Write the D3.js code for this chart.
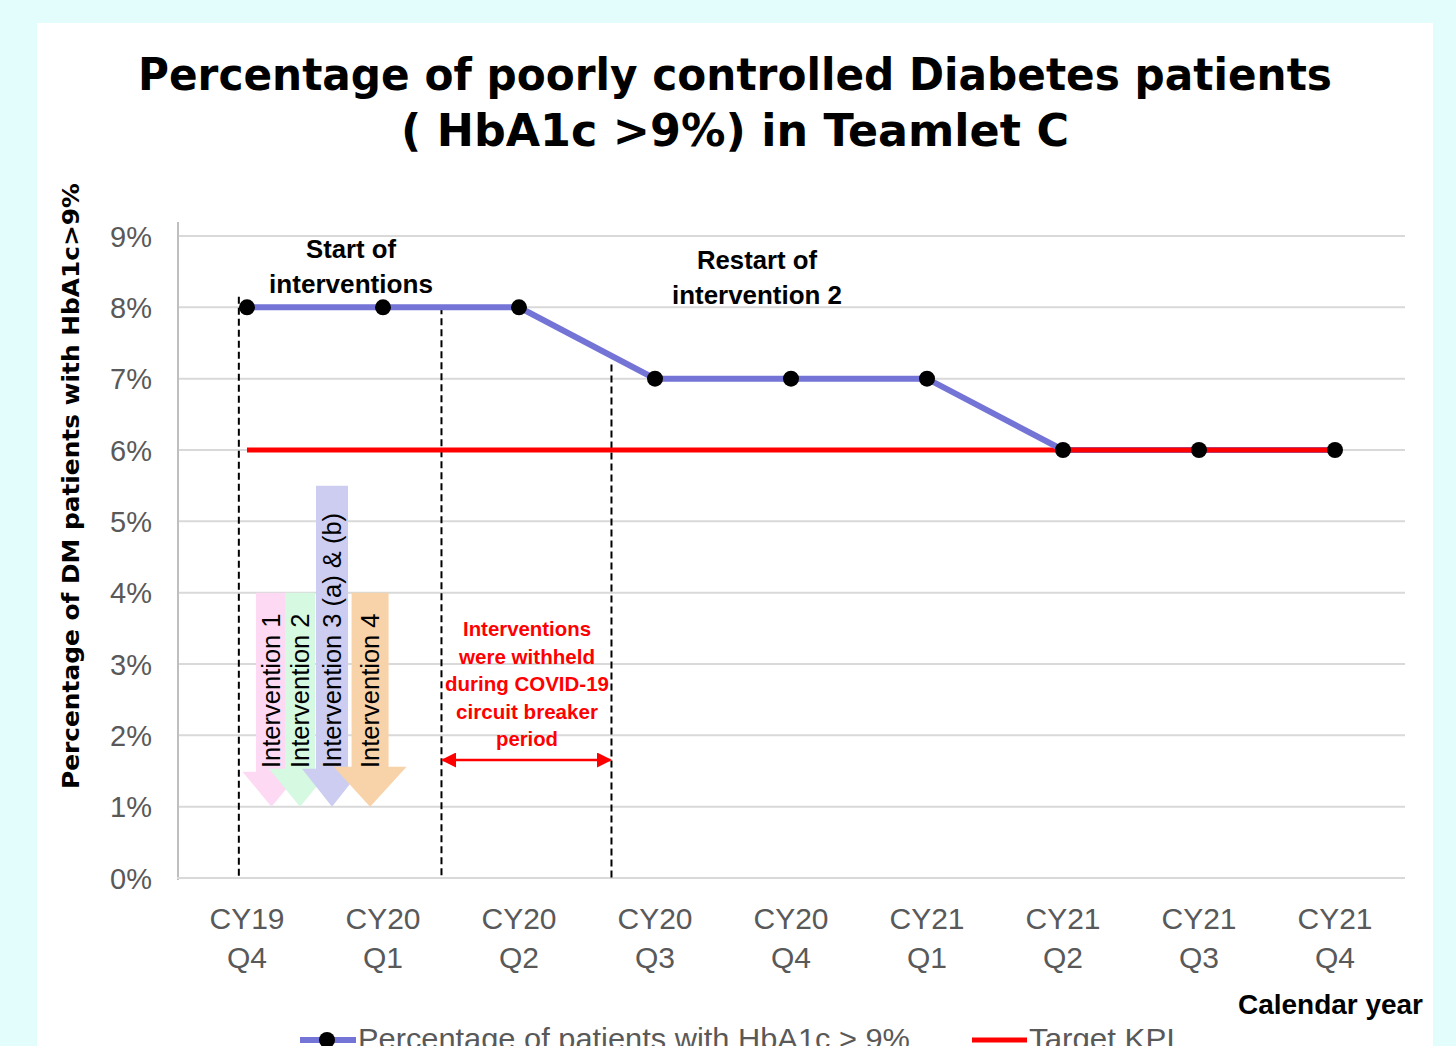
<!DOCTYPE html>
<html>
<head>
<meta charset="utf-8">
<script src="https://cdn.jsdelivr.net/npm/d3@7"></script>
<style>
  body { margin: 0; background: #e2fdfb; }
  svg { display: block; }
  .tick-label { font-family: "Liberation Sans", Arial, sans-serif; fill: #595959; }
  .note { font-family: "Liberation Sans", Arial, sans-serif; font-weight: bold; }
</style>
</head>
<body>
<svg id="chart"></svg>
<script>
// chart data
var quarters = ["CY19 Q4", "CY20 Q1", "CY20 Q2", "CY20 Q3", "CY20 Q4", "CY21 Q1", "CY21 Q2", "CY21 Q3", "CY21 Q4"];
var pctValues = [8, 8, 8, 7, 7, 7, 6, 6, 6];
var targetKPI = 6;
var yTicks = [0, 1, 2, 3, 4, 5, 6, 7, 8, 9];

var interventions = ["Intervention 1", "Intervention 2", "Intervention 3 (a) & (b)", "Intervention 4"];
var interventionTop = [4, 4, 5.5, 4];
var interventionTip = [1, 1, 1, 1];
var interventionColors = ["#fdd9f3", "#d5f9e1", "#cdcdf1", "#f8d2a8"];

var WIDTH = 1456;
var HEIGHT = 1046;

var svg = d3.select("#chart").attr("width", WIDTH).attr("height", HEIGHT);

// white panel
svg.append("rect")
    .attr("x", 37).attr("y", 23)
    .attr("width", 1396).attr("height", HEIGHT - 23)
    .attr("fill", "#ffffff");

var x = d3.scaleBand().domain(quarters).range([179, 1403]);
var y = d3.scaleLinear().domain([0, 9]).range([878, 236]);
function cx(q) { return x(q) + x.bandwidth() / 2; }
// fractional category position (0 = first quarter)
var xi = d3.scaleLinear().domain([0, 8]).range([cx(quarters[0]), cx(quarters[8])]);

// title
var title = svg.append("text")
    .attr("text-anchor", "middle")
    .style("font-family", "'DejaVu Sans', Verdana, sans-serif")
    .style("font-weight", "bold")
    .style("font-size", "45px");
title.append("tspan").attr("x", 735).attr("y", 90)
    .attr("textLength", 1194).attr("lengthAdjust", "spacingAndGlyphs")
    .text("Percentage of poorly controlled Diabetes patients");
title.append("tspan").attr("x", 735).attr("y", 146)
    .attr("textLength", 668).attr("lengthAdjust", "spacingAndGlyphs")
    .text("( HbA1c >9%) in Teamlet C");

// gridlines
svg.append("g")
    .selectAll("line")
    .data(yTicks.slice(1))
    .enter()
    .append("line")
    .attr("x1", 179).attr("x2", 1405)
    .attr("y1", function(d) { return y(d); })
    .attr("y2", function(d) { return y(d); })
    .attr("stroke", "#d9d9d9").attr("stroke-width", 2);

// axes
var yAxis = d3.axisLeft(y).tickValues(yTicks).tickSize(0).tickPadding(26)
    .tickFormat(function(d) { return d + "%"; });
var gy = svg.append("g").attr("transform", "translate(178,0)").call(yAxis);
gy.select(".domain").remove();
gy.selectAll("text").attr("class", "tick-label").style("font-size", "29px").attr("dy", "0.35em");
svg.append("line").attr("x1", 178).attr("x2", 178).attr("y1", 222).attr("y2", 880)
    .attr("stroke", "#bfbfbf").attr("stroke-width", 2);
svg.append("line").attr("x1", 177).attr("x2", 1405).attr("y1", 878).attr("y2", 878)
    .attr("stroke", "#d9d9d9").attr("stroke-width", 2);

var xAxis = d3.axisBottom(x).tickSize(0).tickPadding(0).tickFormat("");
var gx = svg.append("g").attr("transform", "translate(0,878)").call(xAxis);
gx.select(".domain").remove();
gx.selectAll(".tick").each(function(d) {
    var parts = d.split(" ");
    var t = d3.select(this).append("text")
        .attr("class", "tick-label")
        .attr("text-anchor", "middle")
        .style("font-size", "30px");
    t.append("tspan").attr("x", 0).attr("y", 51).text(parts[0]);
    t.append("tspan").attr("x", 0).attr("y", 90).text(parts[1]);
});

// y axis title
svg.append("text")
    .attr("transform", "translate(79,486) rotate(-90)")
    .attr("text-anchor", "middle")
    .attr("textLength", 606).attr("lengthAdjust", "spacingAndGlyphs")
    .style("font-family", "'DejaVu Sans', Verdana, sans-serif")
    .style("font-weight", "bold")
    .style("font-size", "23px")
    .text("Percentage of DM patients with HbA1c>9%");

// x axis title
svg.append("text")
    .attr("class", "note")
    .attr("x", 1423).attr("y", 1014)
    .attr("text-anchor", "end")
    .attr("textLength", 185).attr("lengthAdjust", "spacingAndGlyphs")
    .style("font-size", "28px")
    .text("Calendar year");

// dashed markers
var markers = [[-0.06, 8.15], [1.43, 8], [2.68, 7.2]];
svg.append("g")
    .selectAll("line")
    .data(markers)
    .enter()
    .append("line")
    .attr("x1", function(d) { return xi(d[0]); })
    .attr("x2", function(d) { return xi(d[0]); })
    .attr("y1", function(d) { return y(d[1]); })
    .attr("y2", y(0))
    .attr("stroke", "#000").attr("stroke-width", 2)
    .attr("stroke-dasharray", "7,4");

// intervention arrows
var arrowX = [0.18, 0.39, 0.625, 0.905];
var bodyW = [31, 30, 32, 37];
var headW = [58, 62, 60, 73];
var headH = [35, 38, 38, 40];
var arrows = svg.append("g");
interventions.forEach(function(name, i) {
    var c = xi(arrowX[i]);
    var top = y(interventionTop[i]);
    var tip = y(interventionTip[i]);
    var base = tip - headH[i];
    var bw = bodyW[i] / 2, hw = headW[i] / 2;
    var pts = [[c - bw, top], [c + bw, top], [c + bw, base], [c + hw, base], [c, tip],
               [c - hw, base], [c - bw, base]];
    arrows.append("path")
        .attr("d", d3.line()(pts) + "Z")
        .attr("fill", interventionColors[i]);
    arrows.append("text")
        .attr("transform", "translate(" + (c + 9) + "," + 768 + ") rotate(-90)")
        .attr("class", "tick-label")
        .style("fill", "#000")
        .style("font-size", "25.5px")
        .text(name);
});

// target line
svg.append("line")
    .attr("x1", cx(quarters[0])).attr("x2", cx(quarters[8]))
    .attr("y1", y(targetKPI)).attr("y2", y(targetKPI))
    .attr("stroke", "#ff0000").attr("stroke-width", 5);

// series line
var line = d3.line()
    .x(function(d, i) { return cx(quarters[i]); })
    .y(function(d) { return y(d); });
svg.append("path")
    .datum(pctValues)
    .attr("d", line)
    .attr("fill", "none")
    .attr("stroke", "#7474d6")
    .attr("stroke-width", 6);
svg.append("line")
    .attr("x1", cx(quarters[6])).attr("x2", cx(quarters[8]))
    .attr("y1", y(targetKPI)).attr("y2", y(targetKPI))
    .attr("stroke", "#ff0000").attr("stroke-width", 5);
svg.append("g")
    .selectAll("circle")
    .data(pctValues)
    .enter()
    .append("circle")
    .attr("cx", function(d, i) { return cx(quarters[i]); })
    .attr("cy", function(d) { return y(d); })
    .attr("r", 8)
    .attr("fill", "#000");

// annotations
function multiline(lines, xPos, yPos, lh, size, color, widths) {
    var t = svg.append("text").attr("class", "note").attr("text-anchor", "middle")
        .style("font-size", size + "px").style("fill", color);
    lines.forEach(function(s, i) {
        t.append("tspan").attr("x", xPos).attr("y", yPos + i * lh)
            .attr("textLength", widths[i]).attr("lengthAdjust", "spacingAndGlyphs")
            .text(s);
    });
}
multiline(["Start of", "interventions"], 351, 258, 35, 25, "#000", [90, 164]);
multiline(["Restart of", "intervention 2"], 757, 269, 35, 25, "#000", [120, 170]);
multiline(["Interventions", "were withheld", "during COVID-19", "circuit breaker", "period"],
    527, 636, 27.5, 21, "#ff0000", [128, 136, 164, 142, 62]);

// double arrow for withheld period
svg.append("defs").selectAll("marker")
    .data(["arrEnd", "arrStart"])
    .enter()
    .append("marker")
    .attr("id", function(d) { return d; })
    .attr("viewBox", "0 0 10 10")
    .attr("refX", 9).attr("refY", 5)
    .attr("markerWidth", 6).attr("markerHeight", 6)
    .attr("markerUnits", "strokeWidth")
    .attr("orient", "auto-start-reverse")
    .append("path")
    .attr("d", "M0,0L10,5L0,10Z")
    .attr("fill", "#ff0000");
svg.append("line")
    .attr("x1", xi(markers[1][0]) + 1).attr("x2", xi(markers[2][0]) - 1)
    .attr("y1", 760).attr("y2", 760)
    .attr("stroke", "#ff0000").attr("stroke-width", 2.5)
    .attr("marker-start", "url(#arrStart)")
    .attr("marker-end", "url(#arrEnd)");

// legend (cut by the bottom edge, as in the original)
var lg = svg.append("g");
lg.append("line").attr("x1", 300).attr("x2", 356).attr("y1", 1040).attr("y2", 1040)
    .attr("stroke", "#7474d6").attr("stroke-width", 6);
lg.append("circle").attr("cx", 327).attr("cy", 1040).attr("r", 8).attr("fill", "#000");
lg.append("text").attr("class", "tick-label").attr("x", 358).attr("y", 1049)
    .attr("textLength", 552).attr("lengthAdjust", "spacingAndGlyphs")
    .style("font-size", "29px").text("Percentage of patients with HbA1c > 9%");
lg.append("line").attr("x1", 972).attr("x2", 1027).attr("y1", 1040).attr("y2", 1040)
    .attr("stroke", "#ff0000").attr("stroke-width", 5);
lg.append("text").attr("class", "tick-label").attr("x", 1029).attr("y", 1049)
    .attr("textLength", 146).attr("lengthAdjust", "spacingAndGlyphs")
    .style("font-size", "29px").text("Target KPI");
</script>
</body>
</html>
